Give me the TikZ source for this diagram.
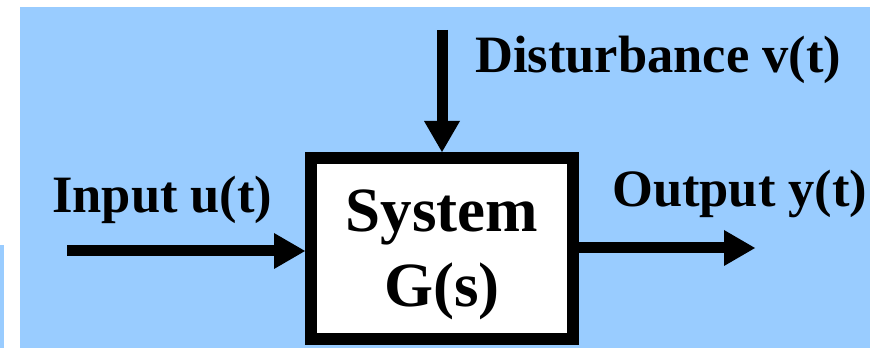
\documentclass[tikz,border=0pt]{standalone}
\usepackage{fontspec}
\setmainfont{Liberation Serif}
\usetikzlibrary{positioning, arrows.meta, calc}
\definecolor{skyblue}{RGB}{153,204,255}

\begin{document}
\begin{tikzpicture}[
        x=1pt, y=1pt,
        block/.style={draw, rectangle, line width=12pt, fill=white, minimum width=262pt, minimum height=181pt, inner sep=0pt},
        blocktext/.style={font=\fontsize{63}{75}\selectfont\bfseries, align=center, inner sep=0pt},
        signal/.style={font=\fontsize{52.5}{60}\selectfont\bfseries, inner sep=0pt, anchor=base west},
        arrow/.style={-{Triangle[length=31pt, width=36pt, line width=0pt]}, line width=11pt}
    ]
    \useasboundingbox (0,0) rectangle (870,348);
    \fill[skyblue] (20,0) rectangle (870,341);
    \fill[skyblue] (0,0) rectangle (4,103);

    \node[block] (Sys) at (442,99.5) {};
    \node[blocktext, yshift=-6pt] (SysText) at (Sys.center) {System\\G(s)};

    \coordinate (InStart) at (67,97);
    \coordinate (OutEnd) at (755,100);
    \coordinate (DistStart) at (442,318);

    \node[signal] (InLabel) at (52,135) {Input u(t)};
    \node[signal] (OutLabel) at (612,141) {Output y(t)};
    \node[signal] (DistLabel) at (475,275) {Disturbance v(t)};

    \draw[arrow] (InStart) -- (InStart -| Sys.west);
    \draw[arrow] (Sys.east |- OutEnd) -- (OutEnd);
    \draw[arrow] (DistStart) -- (Sys.north);

\end{tikzpicture}
\end{document}
